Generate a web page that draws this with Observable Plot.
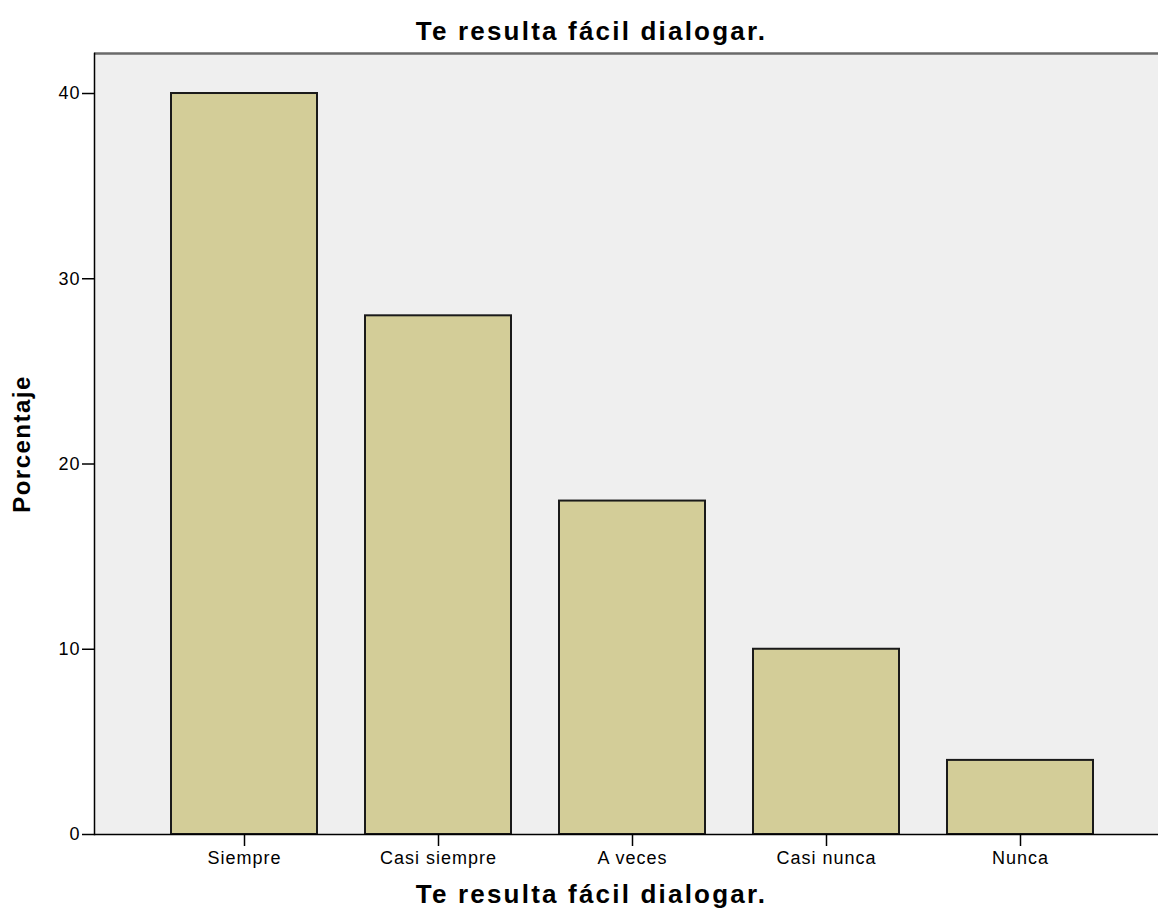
<!DOCTYPE html>
<html><head><meta charset="utf-8">
<script src="https://cdn.jsdelivr.net/npm/d3@7"></script>
<script src="https://cdn.jsdelivr.net/npm/@observablehq/plot@0.6"></script>
<style>body{margin:0;background:#fff} svg{display:block}</style>
</head><body><div id="chart"></div>
<script>
const categories = ["Siempre", "Casi siempre", "A veces", "Casi nunca", "Nunca"];
const percentages = [40, 28, 18, 10, 4];
const yTicks = [0, 10, 20, 30, 40];
const yMax = 42.16;
const title = "Te resulta fácil dialogar.";
const xLabel = "Te resulta fácil dialogar.";
const yLabel = "Porcentaje";

const data = categories.map((c, i) => ({category: c, value: percentages[i]}));

const chart = Plot.plot({
  width: 1158, height: 919,
  marginTop: 53, marginLeft: 94, marginRight: 0, marginBottom: 85,
  style: {fontFamily: "'Liberation Sans', Arial, sans-serif", fontSize: "17px", background: "#fff", color: "#000"},
  x: {domain: categories, range: [146.5, 1116.5], paddingInner: 0.25, paddingOuter: 0.125, label: null},
  y: {domain: [0, yMax], label: null},
  marks: [
    Plot.frame({fill: "#efefef", stroke: "none"}),
    Plot.ruleY([yMax], {stroke: "#6a6a6a", strokeWidth: 2.5}),
    Plot.frame({anchor: "left", stroke: "#000", strokeWidth: 1.5}),
    Plot.barY(data, {x: "category", y: "value", fill: "#d3cd98", stroke: "#1a1a1a", strokeWidth: 2}),
    Plot.ruleY([0], {stroke: "#000", strokeWidth: 1.5}),
    Plot.axisY(yTicks, {tickSize: 12, tickPadding: 2, label: null, stroke: "#000", strokeWidth: 1.5, fontSize: 18}),
    Plot.axisX({tickSize: 12, tickPadding: 5, label: null, stroke: "#000", strokeWidth: 1.5, fontSize: 18}),
    Plot.text([title], {frameAnchor: "top", dx: -35, dy: -22, lineAnchor: "middle", textAnchor: "middle", fontWeight: "bold", fontSize: 26, className: "ttl"}),
    Plot.text([xLabel], {frameAnchor: "bottom", dx: -35, dy: 60, lineAnchor: "middle", textAnchor: "middle", fontWeight: "bold", fontSize: 26, className: "ttl"}),
    Plot.text([yLabel], {frameAnchor: "left", dx: -72, dy: 0, rotate: -90, lineAnchor: "middle", textAnchor: "middle", fontWeight: "bold", fontSize: 24, className: "ylab"})
  ]
});
document.getElementById("chart").appendChild(chart);
d3.select(chart).selectAll("g[aria-label='y-axis tick label'] text, g[aria-label='x-axis tick label'] text").style("letter-spacing", "1px");
d3.select(chart).selectAll(".ttl text").style("letter-spacing", "2.2px");
d3.select(chart).selectAll(".ylab text").style("letter-spacing", "1.5px");
</script>
</body></html>
